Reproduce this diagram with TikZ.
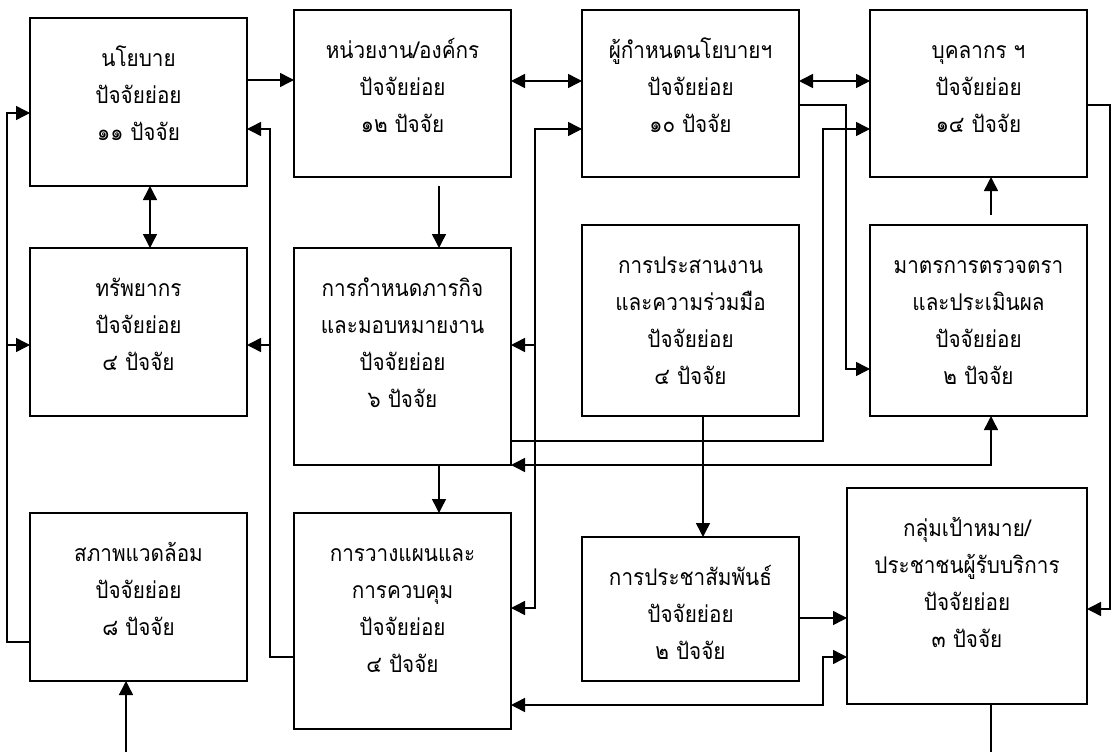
\documentclass[tikz,border=0pt]{standalone}
\usepackage{fontspec}
\newfontfamily\thaifont[Script=Thai,FakeStretch=0.9]{Loma}
\usetikzlibrary{arrows.meta,positioning}
\newcommand\mytxtfont{\thaifont\fontsize{23}{37}\selectfont\lineskiplimit -60pt\relax\lineskip 0pt\relax}
\newcommand\mytopstrut{\rule{0pt}{30pt}}
\tikzset{
  box/.style={draw, line width=1.8pt, inner sep=0pt, outer sep=0pt, minimum width=217pt},
  txt/.style={font={\mytxtfont}, align=center, inner sep=0pt},
  conn/.style={line width=1.5pt},
  T/.tip={Triangle[length=14pt,width=14pt]}
}
\begin{document}
\begin{tikzpicture}[x=1pt,y=-1pt]
\useasboundingbox (0,0) rectangle (1112,752);
% boxes
\node[box, minimum height=168pt] (A) at (138.5,102) {};
\node[box, minimum height=167pt] (B) at (402.5,93.5) {};
\node[box, minimum height=167pt] (C) at (690.5,93.5) {};
\node[box, minimum height=167pt] (D) at (978.5,93.5) {};
\node[box, minimum height=168pt] (E) at (138.5,332) {};
\node[box, minimum height=217pt] (F) at (402.5,356.5) {};
\node[box, minimum height=191pt] (G) at (690.5,320.5) {};
\node[box, minimum height=191pt] (H) at (978.5,320.5) {};
\node[box, minimum height=168pt] (I) at (138.5,597) {};
\node[box, minimum height=216pt] (J) at (402.5,621) {};
\node[box, minimum height=144pt] (K) at (690.5,609) {};
\node[box, minimum height=216pt, minimum width=240pt] (L) at (967,596) {};
% texts
\node[txt, below=18pt of A.north] (At) {\mytopstrut นโยบาย\\ปัจจัยย่อย\\๑๑ ปัจจัย};
\node[txt, below=18pt of B.north] (Bt) {\mytopstrut หน่วยงาน/องค์กร\\ปัจจัยย่อย\\๑๒ ปัจจัย};
\node[txt, below=18pt of C.north] (Ct) {\mytopstrut ผู้กำหนดนโยบายฯ\\ปัจจัยย่อย\\๑๐ ปัจจัย};
\node[txt, below=18pt of D.north] (Dt) {\mytopstrut บุคลากร ฯ\\ปัจจัยย่อย\\๑๔ ปัจจัย};
\node[txt, below=18pt of E.north] (Et) {\mytopstrut ทรัพยากร\\ปัจจัยย่อย\\๔ ปัจจัย};
\node[txt, below=18pt of F.north] (Ft) {\mytopstrut การกำหนดภารกิจ\\และมอบหมายงาน\\ปัจจัยย่อย\\๖ ปัจจัย};
\node[txt, below=18pt of G.north] (Gt) {\mytopstrut การประสานงาน\\และความร่วมมือ\\ปัจจัยย่อย\\๔ ปัจจัย};
\node[txt, below=18pt of H.north] (Ht) {\mytopstrut มาตรการตรวจตรา\\และประเมินผล\\ปัจจัยย่อย\\๒ ปัจจัย};
\node[txt, below=18pt of I.north] (It) {\mytopstrut สภาพแวดล้อม\\ปัจจัยย่อย\\๘ ปัจจัย};
\node[txt, below=18pt of J.north] (Jt) {\mytopstrut การวางแผนและ\\การควบคุม\\ปัจจัยย่อย\\๔ ปัจจัย};
\node[txt, below=18pt of K.north] (Kt) {\mytopstrut การประชาสัมพันธ์\\ปัจจัยย่อย\\๒ ปัจจัย};
\node[txt, below=18pt of L.north] (Lt) {\mytopstrut กลุ่มเป้าหมาย/\\ประชาชนผู้รับบริการ\\ปัจจัยย่อย\\๓ ปัจจัย};
% connectors
\draw[conn,-T] (A.east |- 0,80) -- (B.west |- 0,80);
\draw[conn,T-T] (A.south -| 150,0) -- (E.north -| 150,0);
\draw[conn,T-T] (B.east |- 0,81) -- (C.west |- 0,81);
\draw[conn,T-T] (C.east |- 0,81) -- (D.west |- 0,81);
\draw[conn,-T,shorten <=9pt] (B.south -| 439,0) -- (F.north -| 439,0);
\draw[conn,-T,shorten <=10pt] (H.north -| 991,0) -- (D.south -| 991,0);
\draw[conn,-T] (F.south -| 439,0) -- (J.north -| 439,0);
\draw[conn,-T] (G.south -| 703,0) -- (K.north -| 703,0);
\draw[conn,-T] (K.east |- 0,618) -- (L.west |- 0,618);
\draw[conn,-T] (C.east |- 0,105) -- (846,105) -- (846,369) -- (H.west |- 0,369);
\draw[conn,-T] (D.east |- 0,105) -- (1110,105) -- (1110,609) -- (L.east |- 0,609);
\draw[conn,-T] (F.east |- 0,441) -- (823,441) -- (823,129) -- (D.west |- 0,129);
\draw[conn,T-T] (F.south east) -- (991,465) -- (H.south -| 991,0);
\draw[conn,T-T] (J.east |- 0,705) -- (823,705) -- (823,657) -- (L.west |- 0,657);
\draw[conn,-T] (I.west |- 0,642) -- (7,642) -- (7,113) -- (A.west |- 0,113);
\draw[conn,-T] (7,345) -- (E.west |- 0,345);
\draw[conn,-T] (J.west |- 0,657) -- (270,657) -- (270,129) -- (A.east |- 0,129);
\draw[conn,-T] (270,345) -- (E.east |- 0,345);
\draw[conn,T-T] (C.west |- 0,129) -- (535,129) -- (535,608) -- (J.east |- 0,608);
\draw[conn,-T] (535,345) -- (F.east |- 0,345);
\coordinate (bl) at (126,752);
\coordinate (br) at (991,752);
\draw[conn,-T] (bl) -- (I.south -| bl);
\draw[conn] (L.south -| br) -- (br);
\end{tikzpicture}
\end{document}
